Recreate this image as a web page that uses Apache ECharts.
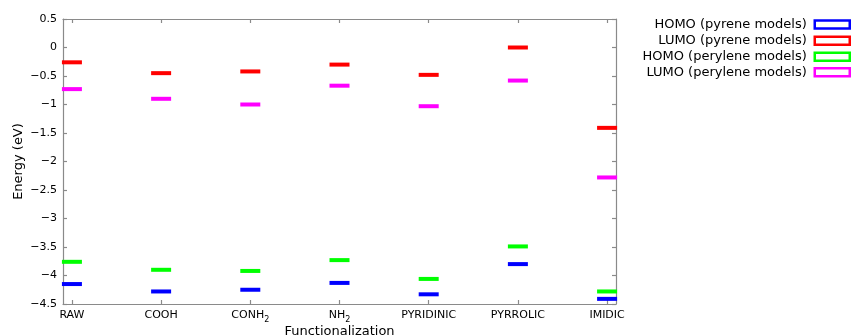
<!DOCTYPE html>
<html>
<head>
<meta charset="utf-8">
<script src="https://cdn.jsdelivr.net/npm/echarts@6/dist/echarts.min.js"></script>
<style>html,body{margin:0;padding:0;background:#fff}#c{width:854px;height:336px}</style>
</head>
<body>
<div id="c"></div>
<script>
var categories = ['RAW', 'COOH', 'CONH\u2082', 'NH\u2082', 'PYRIDINIC', 'PYRROLIC', 'IMIDIC'];
var homoPyrene   = [-4.15, -4.28, -4.25, -4.13, -4.33, -3.80, -4.41];
var lumoPyrene   = [-0.26, -0.45, -0.42, -0.30, -0.48, 0.00, -1.41];
var homoPerylene = [-3.76, -3.90, -3.92, -3.73, -4.06, -3.49, -4.28];
var lumoPerylene = [-0.73, -0.90, -1.00, -0.67, -1.03, -0.58, -2.28];
var seriesNames = ['HOMO (pyrene models)', 'LUMO (pyrene models)', 'HOMO (perylene models)', 'LUMO (perylene models)'];
var seriesColors = ['#0000ff', '#ff0000', '#00ff00', '#ff00ff'];
var yTicks = [0.5, 0, -0.5, -1, -1.5, -2, -2.5, -3, -3.5, -4, -4.5];

var allValues = [homoPyrene, lumoPyrene, homoPerylene, lumoPerylene];
var catIdx = categories.map(function (c, i) { return i; });
var FONT = 'DejaVu Sans';

var series = allValues.map(function (vals, s) {
  return {
    name: seriesNames[s],
    type: 'scatter',
    symbol: 'rect',
    symbolSize: [20, 4],
    clip: false,
    itemStyle: { color: seriesColors[s], opacity: 1 },
    emphasis: { disabled: true },
    data: vals.map(function (v, i) { return [catIdx[i], v]; })
  };
});

var legendCenters = [26, 42.3, 58.3, 73.7];
var legends = seriesNames.map(function (n, s) {
  return {
    right: 3,
    top: legendCenters[s] - 8,
    orient: 'vertical',
    align: 'right',
    selectedMode: false,
    itemWidth: 35,
    itemHeight: 8,
    padding: 0,
    textStyle: { fontFamily: FONT, fontSize: 13, color: '#000', padding: [0, 3, 0, 0] },
    data: [{ name: n, icon: 'rect', itemStyle: { color: '#fff', borderColor: seriesColors[s], borderWidth: 2.5 } }]
  };
});

function catLabel(v) {
  var c = categories[Math.round(v)];
  if (c === undefined) return '';
  var parts = c.split('\u2082');
  var out = '{a|' + parts[0] + '}';
  if (parts.length > 1) out += '{s|2}' + (parts[1] ? '{a|' + parts[1] + '}' : '');
  return out;
}

var axisLineStyle = { color: '#8a8a8a', width: 1.2 };
var chart = echarts.init(document.getElementById('c'), null, { renderer: 'canvas' });
chart.setOption({
  animation: false,
  backgroundColor: '#fff',
  grid: { left: 63, right: 238, top: 19, bottom: 32, containLabel: false, outerBoundsMode: 'none' },
  legend: legends,
  xAxis: [{
    type: 'value', min: -0.1, max: 6.1,
    name: 'Functionalization', nameLocation: 'middle', nameGap: 21, nameMoveOverlap: false,
    nameTextStyle: { fontFamily: FONT, fontSize: 13, color: '#000' },
    axisLine: { show: true, onZero: false, lineStyle: axisLineStyle },
    axisTick: { show: true, inside: true, length: 4, lineStyle: axisLineStyle, customValues: catIdx },
    axisLabel: { fontFamily: FONT, fontSize: 11, color: '#000', margin: 6, customValues: catIdx,
      formatter: catLabel,
      rich: {
        a: { fontFamily: FONT, fontSize: 11, color: '#000', verticalAlign: 'top', lineHeight: 13 },
        s: { fontFamily: FONT, fontSize: 8, color: '#000', verticalAlign: 'top', lineHeight: 9, padding: [6, 0, 0, 0] }
      } },
    splitLine: { show: false }
  }, {
    type: 'value', min: -0.1, max: 6.1, position: 'top',
    axisLine: { show: true, onZero: false, lineStyle: axisLineStyle },
    axisTick: { show: true, inside: true, length: 4, lineStyle: axisLineStyle, customValues: catIdx },
    axisLabel: { show: false },
    splitLine: { show: false }
  }],
  yAxis: [{
    type: 'value', min: -4.5, max: 0.5, interval: 0.5,
    name: 'Energy (eV)', nameLocation: 'middle', nameGap: 38, nameRotate: 90, nameMoveOverlap: false,
    nameTextStyle: { fontFamily: FONT, fontSize: 13, color: '#000' },
    axisLine: { show: true, onZero: false, lineStyle: axisLineStyle },
    axisTick: { show: true, inside: true, length: 4, lineStyle: axisLineStyle },
    axisLabel: { fontFamily: FONT, fontSize: 11, color: '#000', margin: 6,
      formatter: function (v) { return String(v).replace('-', '\u2212'); } },
    splitLine: { show: false }
  }, {
    type: 'value', min: -4.5, max: 0.5, interval: 0.5, position: 'right',
    axisLine: { show: true, onZero: false, lineStyle: axisLineStyle },
    axisTick: { show: true, inside: true, length: 4, lineStyle: axisLineStyle },
    axisLabel: { show: false },
    splitLine: { show: false }
  }],
  series: series
});
</script>
</body>
</html>
